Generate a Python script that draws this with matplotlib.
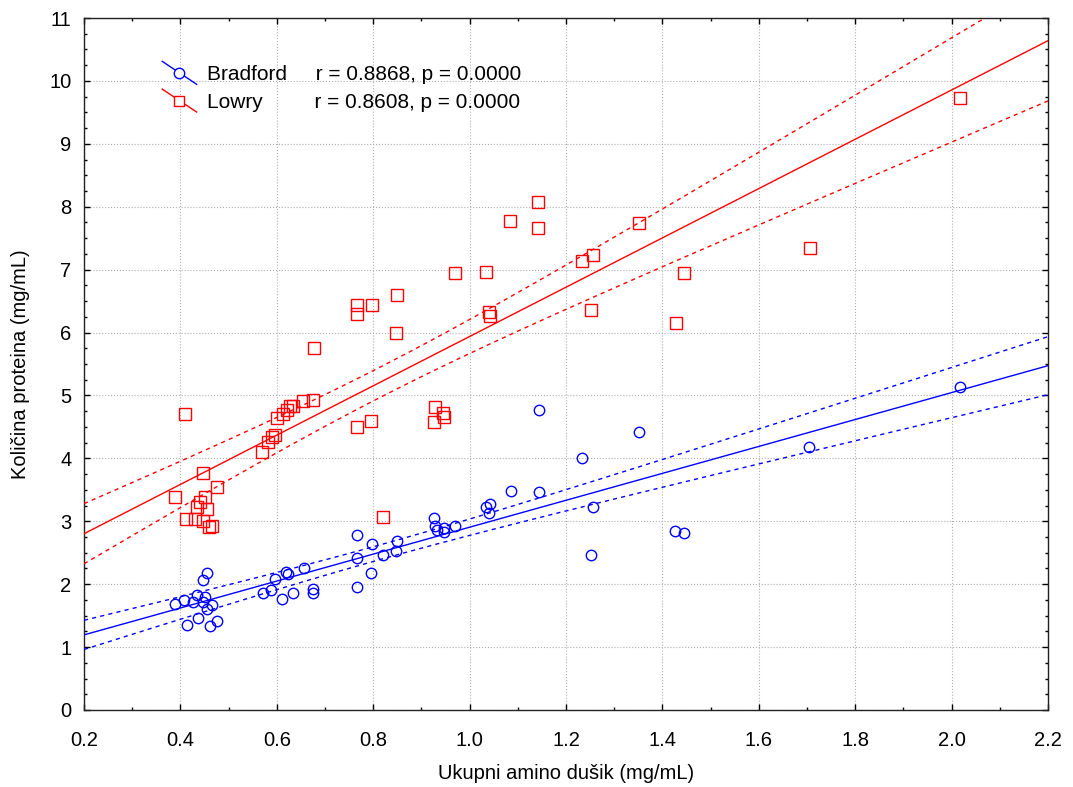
import numpy as np
import matplotlib
matplotlib.use("Agg")
import matplotlib.pyplot as plt
from matplotlib.lines import Line2D
from matplotlib.legend_handler import HandlerBase
from matplotlib.ticker import MultipleLocator

plt.rcParams['font.family'] = ['Liberation Sans', 'DejaVu Sans']

# Bradford (blue circles)
bradford_x = [0.389, 0.408, 0.414, 0.426, 0.434, 0.436, 0.447, 0.447, 0.451, 0.455,
              0.455, 0.461, 0.465, 0.475, 0.572, 0.587, 0.596, 0.611, 0.620, 0.624,
              0.634, 0.656, 0.676, 0.676, 0.766, 0.766, 0.767, 0.795, 0.798, 0.821,
              0.847, 0.850, 0.926, 0.928, 0.932, 0.947, 0.947, 0.970, 1.035, 1.040,
              1.043, 1.085, 1.143, 1.143, 1.233, 1.256, 1.252, 1.351, 1.426, 1.445,
              1.704, 2.017]
bradford_y = [1.69, 1.75, 1.35, 1.72, 1.83, 1.46, 2.07, 1.72, 1.80, 2.18,
              1.60, 1.34, 1.67, 1.41, 1.86, 1.91, 2.08, 1.76, 2.20, 2.16,
              1.86, 2.25, 1.93, 1.86, 2.78, 1.95, 2.42, 2.17, 2.64, 2.47,
              2.53, 2.69, 3.05, 2.93, 2.86, 2.90, 2.83, 2.93, 3.23, 3.13,
              3.28, 3.48, 4.77, 3.47, 4.00, 3.23, 2.46, 4.42, 2.85, 2.82,
              4.18, 5.13]

# Lowry (red squares)
lowry_x = [0.389, 0.410, 0.412, 0.430, 0.434, 0.440, 0.447, 0.447, 0.451, 0.455,
           0.459, 0.466, 0.476, 0.569, 0.582, 0.590, 0.596, 0.600, 0.613, 0.621,
           0.627, 0.634, 0.654, 0.675, 0.677, 0.766, 0.766, 0.766, 0.797, 0.795,
           0.820, 0.849, 0.847, 0.928, 0.926, 0.945, 0.947, 0.970, 1.034, 1.040,
           1.042, 1.084, 1.142, 1.142, 1.233, 1.256, 1.252, 1.351, 1.428, 1.445,
           1.706, 2.017]
lowry_y = [3.39, 4.71, 3.04, 3.04, 3.23, 3.31, 3.77, 3.00, 3.39, 3.20,
           2.91, 2.93, 3.55, 4.10, 4.26, 4.34, 4.37, 4.64, 4.71, 4.77,
           4.83, 4.83, 4.91, 4.93, 5.76, 4.50, 6.30, 6.44, 6.44, 4.60,
           3.07, 6.60, 5.99, 4.82, 4.58, 4.72, 4.66, 6.95, 6.96, 6.33,
           6.26, 7.77, 8.08, 7.66, 7.14, 7.23, 6.36, 7.74, 6.15, 6.95,
           7.34, 9.73]

labels = ["Bradford", "Lowry"]
stats = ["r = 0.8868, p = 0.0000", "r = 0.8608, p = 0.0000"]


def fit_with_band(x, y, xs, t=2.009):
    # linear fit plus 95% confidence band of the mean
    x = np.asarray(x)
    y = np.asarray(y)
    b, a = np.polyfit(x, y, 1)
    resid = y - (a + b * x)
    n = len(x)
    s = np.sqrt(np.sum(resid**2) / (n - 2))
    sxx = np.sum((x - x.mean())**2)
    yhat = a + b * xs
    half = t * s * np.sqrt(1.0 / n + (xs - x.mean())**2 / sxx)
    return yhat, yhat - half, yhat + half


class DiagHandler(HandlerBase):
    # Statistica style legend key: slanted line with marker in the middle
    def create_artists(self, legend, orig_handle, xdescent, ydescent,
                       width, height, fontsize, trans):
        x0, x1 = -xdescent, width - xdescent
        y0, y1 = height - ydescent + 3, -ydescent - 3
        ln = Line2D([x0, x1], [y0, y1], color=orig_handle.get_color(), lw=1)
        mk = Line2D([(x0 + x1) / 2], [(y0 + y1) / 2], marker=orig_handle.get_marker(),
                    markersize=7.5, markerfacecolor='white',
                    markeredgecolor=orig_handle.get_color(), lw=0)
        ln.set_transform(trans)
        mk.set_transform(trans)
        return [ln, mk]


fig = plt.figure(figsize=(10.73, 7.87), dpi=100)
ax = fig.add_axes([0.0783, 0.0979, 0.8984, 0.8792])

xs = np.linspace(0.2, 2.2, 200)
handles = []
for x, y, col, mk, ms in [(bradford_x, bradford_y, '#0000ff', 'o', 7.5),
                          (lowry_x, lowry_y, '#ff0000', 's', 8)]:
    yhat, lo, hi = fit_with_band(x, y, xs)
    ax.plot(xs, yhat, color=col, lw=1, zorder=3)
    ax.plot(xs, lo, color=col, lw=1, ls=(0, (3, 3)), zorder=3)
    ax.plot(xs, hi, color=col, lw=1, ls=(0, (3, 3)), zorder=3)
    ax.plot(x, y, ls='none', marker=mk, markersize=ms, markerfacecolor='none',
            markeredgecolor=col, markeredgewidth=1, zorder=4)
    handles.append(Line2D([], [], color=col, marker=mk))

leg = ax.legend(handles, [f"{labels[0]}     {stats[0]}", f"{labels[1]}         {stats[1]}"],
                handler_map={Line2D: DiagHandler()}, loc='upper left',
                bbox_to_anchor=(0.0725, 0.944), frameon=False, fontsize=15,
                handlelength=1.65, handletextpad=0.5, labelspacing=0.42,
                borderaxespad=0)

ax.set_xlim(0.2, 2.2)
ax.set_ylim(0, 11)
ax.xaxis.set_major_locator(MultipleLocator(0.2))
ax.xaxis.set_minor_locator(MultipleLocator(0.1))
ax.yaxis.set_major_locator(MultipleLocator(1))
ax.yaxis.set_minor_locator(MultipleLocator(0.25))
ax.xaxis.set_major_formatter(plt.FuncFormatter(lambda v, p: f"{v:.1f}"))
ax.tick_params(which='both', direction='in', top=True, right=True, labelsize=14.5)
ax.tick_params(which='major', length=4, width=1)
ax.tick_params(which='minor', length=2, width=1)
ax.tick_params(axis='x', which='major', pad=15)
ax.tick_params(axis='y', which='major', pad=9)
ax.grid(True, which='major', color='#b0b0b0', ls=':', lw=0.8)
ax.set_axisbelow(True)
for sp in ax.spines.values():
    sp.set_color('#222222')
    sp.set_linewidth(1)

ax.set_xlabel("Ukupni amino dušik (mg/mL)", fontsize=14.5, labelpad=10)
ax.set_ylabel("Količina proteina (mg/mL)", fontsize=14.5, labelpad=14)

plt.savefig('out.png', dpi=100)
